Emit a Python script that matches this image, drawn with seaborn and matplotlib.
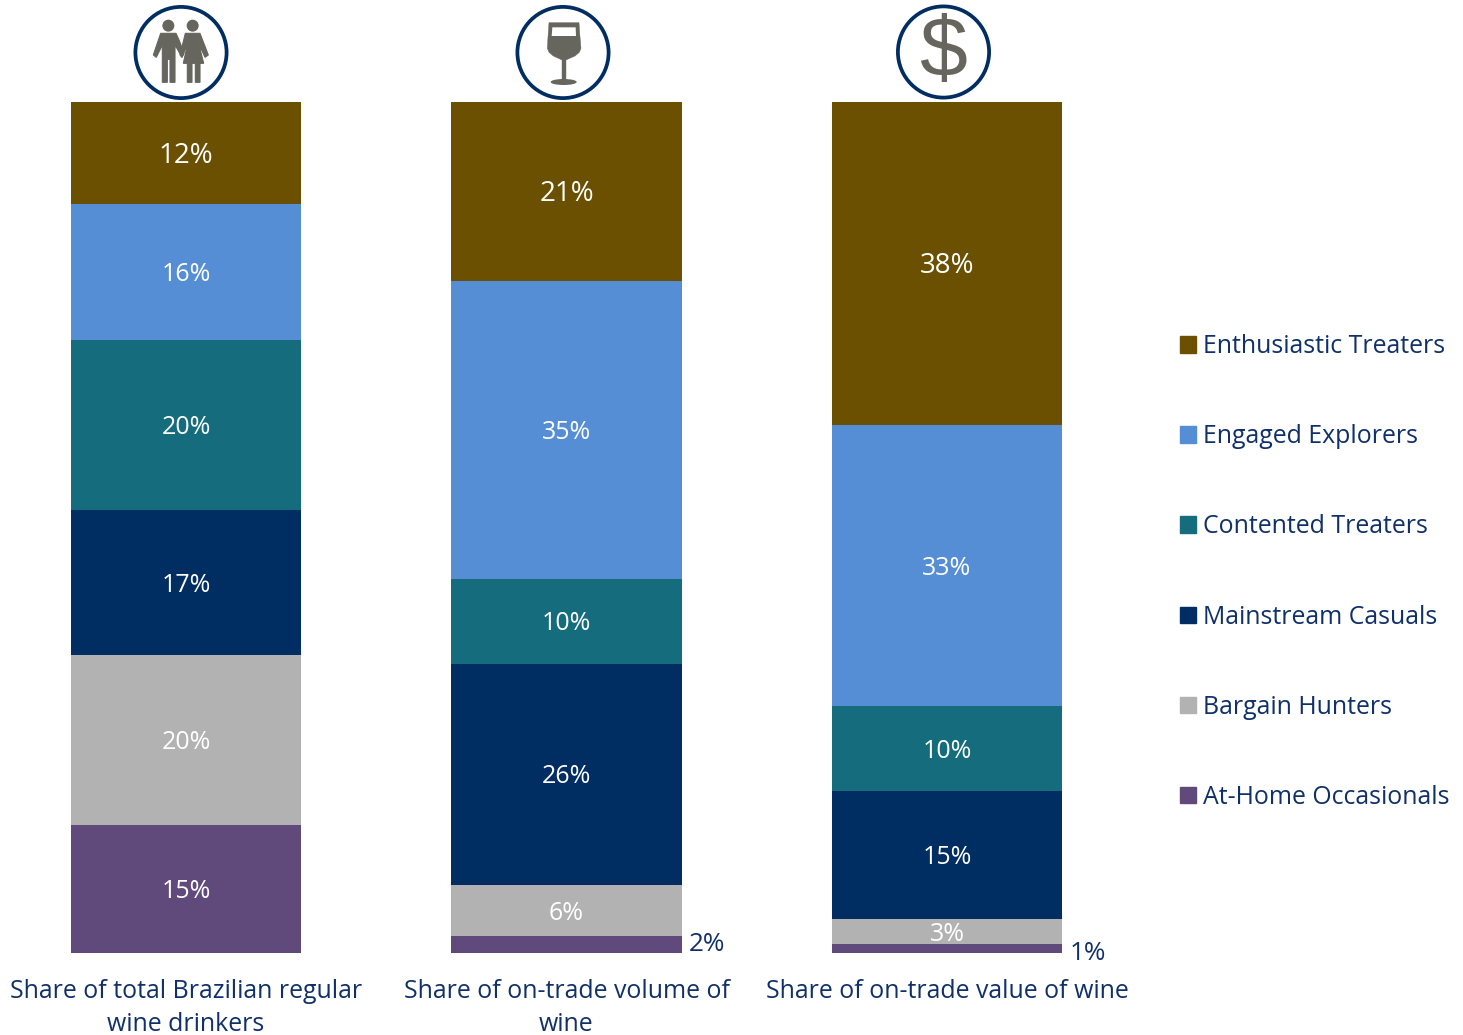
import matplotlib
matplotlib.use("Agg")
import matplotlib.pyplot as plt
from matplotlib.patches import Circle, Polygon, Ellipse, Rectangle
import numpy as np
import pandas as pd
import seaborn as sns

# Shares in percent, listed from the bottom of each stack upward
columns = ["Share of total Brazilian regular\nwine drinkers",
           "Share of on-trade volume of\nwine",
           "Share of on-trade value of wine"]
segments = ["At-Home Occasionals", "Bargain Hunters", "Mainstream Casuals",
            "Contented Treaters", "Engaged Explorers", "Enthusiastic Treaters"]
at_home = [15, 2, 1]
bargain = [20, 6, 3]
mainstream = [17, 26, 15]
contented = [20, 10, 10]
engaged = [16, 35, 33]
enthusiastic = [12, 21, 38]
palette = ["#604A7B", "#B2B2B2", "#002D62", "#146C7C", "#558ED5", "#6A5000"]

NAVY = "#002D62"
TEXT_NAVY = "#10306A"
ICON = "#66665E"
W, H = 1463, 1035

sns.set_theme(style="white")
plt.rcParams["font.family"] = ["Open Sans", "DejaVu Sans"]

frame = pd.DataFrame(
    [at_home, bargain, mainstream, contented, engaged, enthusiastic],
    index=segments, columns=columns,
).rename_axis("segment").reset_index().melt("segment", var_name="column", value_name="share")

fig = plt.figure(figsize=(W / 100, H / 100), dpi=100)
ax = fig.add_axes([0, (H - 953) / H, 1, 851 / H])

# Stacked bars, one seaborn call per segment
base = np.zeros(len(columns))
for name, colour in zip(segments, palette):
    rows = frame[frame["segment"] == name]
    values = rows["share"].to_numpy()
    sns.barplot(data=rows, x="column", y="share", color=colour, width=0.606,
                bottom=base, saturation=1, linewidth=0, ax=ax, legend=False)
    for i, v in enumerate(values):
        if v >= 3:
            size = 20 if name == "Enthusiastic Treaters" else 18
            ax.text(i, base[i] + v / 2 - 0.3, f"{v}%", color="white", ha="center",
                    va="center", fontsize=size)
        else:
            # Slivers too thin to hold a label get it beside the bar
            nudge = 0.05 if v == 2 else -0.55
            ax.text(i + 0.322, base[i] + v / 2 + nudge, f"{v}%", color=TEXT_NAVY,
                    ha="left", va="center", fontsize=18.8)
    base = base + values

ax.set_ylim(0, 100)
ax.set_xlim(-186 / 380.5, (W - 186) / 380.5)
ax.set_xlabel("")
ax.set_ylabel("")
ax.set_yticks([])
ax.tick_params(axis="x", length=0, pad=19, labelsize=17.9, labelcolor=TEXT_NAVY)
for label in ax.get_xticklabels():
    label.set_linespacing(1.42)
for side in ax.spines.values():
    side.set_visible(False)
ax.patch.set_alpha(0)

# Legend in reverse stacking order, square swatches
handles = [Rectangle((0, 0), 1, 1, color=c) for c in palette[::-1]]
ax.legend(handles, segments[::-1], loc="center left",
          bbox_to_anchor=(1180 / W, (953 - 572) / 851),
          frameon=False, fontsize=17.9, labelcolor=TEXT_NAVY,
          handlelength=0.64, handleheight=0.64, handletextpad=0.28,
          labelspacing=2.62, borderpad=0, borderaxespad=0)

# Overlay in pixel units for the three round icons above the bars
ov = fig.add_axes([0, 0, 1, 1])
ov.set_xlim(0, W)
ov.set_ylim(H, 0)
ov.axis("off")
ov.patch.set_alpha(0)


def ring(cx, cy):
    ov.add_patch(Circle((cx, cy), 45.6, fc="white", ec=NAVY, lw=2.7))


def shape(points, ox, colour=ICON, edge=0.8):
    pts = [(ox + x / 3, y / 3) for x, y in points]
    ov.add_patch(Polygon(pts, closed=True, fc=colour, ec=colour, lw=edge))


# Couple holding hands
ring(181, 52.5)
ov.add_patch(Circle((120 + 145 / 3, 77 / 3), 6, fc=ICON, ec="none"))
ov.add_patch(Circle((120 + 218 / 3, 77 / 3), 6, fc=ICON, ec="none"))
shape([(122, 100), (168, 100), (178, 122), (192, 160), (186, 172), (165, 135), (165, 247),
       (150, 247), (150, 178), (142, 178), (142, 247), (127, 247), (127, 135),
       (109, 172), (100, 165)], 120)
shape([(196, 100), (240, 100), (265, 165), (255, 172), (236, 130), (251, 190), (240, 190),
       (240, 247), (226, 247), (226, 190), (216, 190), (216, 247), (202, 247), (202, 190),
       (190, 190), (203, 130), (186, 172), (180, 165)], 120)

# Wine glass
ring(563, 52.5)
ox = 500
shape([(147, 68), (237, 68), (240, 110), (243, 145), (238, 157), (225, 168), (198, 180),
       (198, 240), (186, 240), (186, 180), (160, 168), (147, 157), (142, 145), (144, 110)],
      ox, edge=0.3)
shape([(157, 82), (227, 82), (228, 108), (155, 108)], ox, "white", edge=0)
ov.add_patch(Ellipse((ox + 191 / 3, 246 / 3), 78 / 3, 18 / 3, fc=ICON, ec="none"))

# Dollar sign
ring(943.5, 52)
ov.text(943, 54, "$", color=ICON, ha="center", va="center", fontsize=62,
        family=["Liberation Sans Narrow", "Liberation Sans", "DejaVu Sans"])

fig.savefig("out.png", dpi=100, facecolor="white")
